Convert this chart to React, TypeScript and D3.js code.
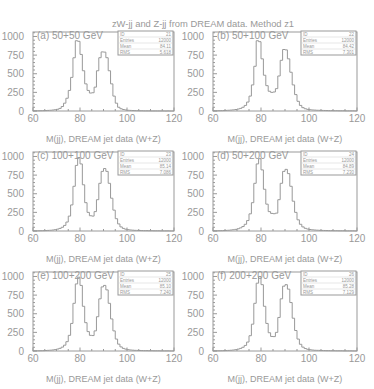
import * as d3 from "d3";

// bin contents, 1 GeV bins from 60 to 120
const binEdges = d3.range(60, 121);

const histA = [2, 3, 3, 4, 5, 6, 8, 10, 13, 17, 23, 35, 60, 105, 171, 276, 451, 714, 943, 935, 759, 540, 364, 276, 241, 245, 320, 540, 715, 793, 790, 715, 540, 364, 200, 105, 50, 30, 20, 14, 10, 8, 6, 5, 4, 3, 3, 2, 2, 2, 1, 1, 1, 1, 1, 1, 0, 1, 0, 0];
const histB = [3, 3, 4, 5, 6, 8, 10, 12, 15, 20, 26, 35, 50, 75, 120, 200, 350, 600, 943, 930, 700, 480, 340, 265, 250, 255, 300, 470, 680, 825, 820, 700, 520, 350, 220, 130, 75, 45, 30, 22, 17, 14, 12, 10, 9, 8, 7, 6, 5, 5, 4, 4, 3, 3, 3, 2, 2, 2, 2, 1];
const histC = [2, 2, 3, 4, 5, 6, 8, 10, 13, 18, 25, 35, 50, 75, 120, 200, 350, 600, 880, 985, 900, 620, 380, 250, 205, 200, 260, 420, 640, 800, 838, 800, 640, 440, 280, 165, 95, 55, 35, 24, 18, 14, 11, 9, 8, 7, 6, 5, 5, 4, 4, 3, 3, 3, 2, 2, 2, 2, 1, 1];
const histD = [3, 3, 4, 5, 6, 8, 10, 13, 17, 22, 30, 42, 60, 90, 140, 230, 380, 640, 900, 970, 820, 560, 360, 260, 236, 232, 240, 420, 640, 800, 827, 770, 600, 400, 250, 150, 90, 55, 36, 26, 20, 16, 13, 11, 9, 8, 7, 6, 5, 5, 4, 4, 3, 3, 3, 2, 2, 2, 2, 1];
const histE = [2, 3, 3, 4, 5, 7, 9, 11, 14, 19, 26, 36, 52, 78, 125, 210, 370, 640, 900, 990, 880, 600, 380, 260, 210, 207, 270, 460, 700, 860, 880, 820, 640, 430, 270, 160, 92, 55, 35, 25, 18, 14, 11, 9, 8, 7, 6, 5, 5, 4, 4, 3, 3, 3, 2, 2, 2, 2, 1, 1];
const histF = [2, 3, 3, 4, 5, 6, 8, 10, 13, 18, 25, 35, 50, 75, 120, 205, 360, 640, 910, 1000, 890, 600, 370, 245, 195, 193, 250, 450, 700, 870, 890, 830, 650, 440, 275, 160, 90, 52, 33, 23, 17, 13, 10, 9, 8, 7, 6, 5, 5, 4, 4, 3, 3, 3, 2, 2, 2, 2, 1, 1];

const panelLabels = ["(a) 50+50 GeV", "(b) 50+100 GeV", "(c) 100+100 GeV", "(d) 50+200 GeV", "(e) 100+200 GeV", "(f) 200+200 GeV"];
const histIds = ["21", "22", "23", "24", "25", "26"];
const entries = ["12000", "12000", "12000", "12000", "12000", "12000"];
const means = ["84.11", "84.42", "85.14", "84.89", "85.10", "85.28"];
const rmsValues = ["5.618", "7.301", "7.086", "7.230", "7.240", "7.129"];

const xTicks = [60, 80, 100, 120];
const yTicks = [0, 250, 500, 750, 1000];
const xTitle = "M(jj), DREAM jet data (W+Z)";
const mainTitle = "zW-jj and Z-jj from DREAM data. Method z1";

const hists = [histA, histB, histC, histD, histE, histF];

const W = 374;
const H = 389;
const colX = [[33, 174], [213, 357]];
const rowY = [32, 152, 272];
const frameH = 79;
const ink = "#999";
const font = "'Liberation Sans', Arial, sans-serif";

function Panel({ idx }: { idx: number }) {
  const col = idx % 2;
  const row = Math.floor(idx / 2);
  const [x0, x1] = colX[col];
  const y0 = rowY[row];
  const y1 = y0 + frameH;

  const x = d3.scaleLinear().domain([60, 120]).range([x0, x1]);
  const y = d3.scaleLinear().domain([0, 1060]).range([y1, y0]);

  const vals = hists[idx];
  const pts: [number, number][] = [[60, 0]];
  vals.forEach((v, i) => pts.push([binEdges[i], v]));
  pts.push([120, vals[vals.length - 1]]);
  pts.push([120, 0]);

  const line = d3
    .line<[number, number]>()
    .x((d) => x(d[0]))
    .y((d) => y(d[1]))
    .curve(d3.curveStepAfter);

  const xMinor = d3.range(60, 121, 5).filter((v) => !xTicks.includes(v));
  const yMinor = d3.range(0, 1051, 50).filter((v) => !yTicks.includes(v));

  const bw = 55;
  const bh = 24;
  const bx = x1 - bw - 1;
  const by = y0 - 1;
  const rows = [
    ["ID", histIds[idx]],
    ["Entries", entries[idx]],
    ["Mean", means[idx]],
    ["RMS", rmsValues[idx]],
  ];

  return (
    <g>
      <rect x={x0} y={y0} width={x1 - x0} height={frameH} fill="none" stroke={ink} strokeWidth={1} />
      {xTicks.map((t) => (
        <g key={"xt" + t}>
          <line x1={x(t)} x2={x(t)} y1={y1} y2={y1 - 3.5} stroke={ink} />
          <text x={x(t)} y={y1 + 11} textAnchor="middle" fontSize={10} fill={ink} fontFamily={font}>
            {t}
          </text>
        </g>
      ))}
      {xMinor.map((t) => (
        <line key={"xm" + t} x1={x(t)} x2={x(t)} y1={y1} y2={y1 - 2} stroke={ink} />
      ))}
      {yTicks.map((t) => (
        <g key={"yt" + t}>
          <line x1={x0} x2={x0 + 4} y1={y(t)} y2={y(t)} stroke={ink} />
          <text x={x0 - 9} y={y(t) + 3.5} textAnchor="end" fontSize={10} fill={ink} fontFamily={font}>
            {t}
          </text>
        </g>
      ))}
      {yMinor.map((t) => (
        <line key={"ym" + t} x1={x0} x2={x0 + 2} y1={y(t)} y2={y(t)} stroke={ink} />
      ))}
      <path d={line(pts) || ""} fill="none" stroke={ink} strokeWidth={1} />
      <text x={x0 + 4} y={y0 + 7} fontSize={10} fill={ink} fontFamily={font}>
        {panelLabels[idx]}
      </text>
      <rect x={bx} y={by} width={bw} height={bh} fill="white" stroke={ink} strokeWidth={1} />
      {rows.map((r, i) => (
        <g key={r[0]}>
          {i > 0 && <line x1={bx} x2={bx + bw} y1={by + i * (bh / 4)} y2={by + i * (bh / 4)} stroke="#cfcfcf" strokeWidth={0.5} />}
          <text x={bx + 2} y={by + i * (bh / 4) + 4.6} fontSize={4.5} fill={ink} fontFamily={font}>
            {r[0]}
          </text>
          <text x={bx + bw - 2} y={by + i * (bh / 4) + 4.6} fontSize={4.5} fill={ink} textAnchor="end" fontFamily={font}>
            {r[1]}
          </text>
        </g>
      ))}
      <text x={(x0 + x1) / 2} y={y1 + 31} textAnchor="middle" fontSize={9} fill={ink} fontFamily={font}>
        {xTitle}
      </text>
    </g>
  );
}

export default function App() {
  return (
    <svg width={W} height={H} style={{ position: "absolute", left: 0, top: 0, background: "white" }}>
      <rect width={W} height={H} fill="white" />
      {hists.map((_, i) => (
        <Panel key={i} idx={i} />
      ))}
      <text x={203} y={27} textAnchor="middle" fontSize={9.4} fill={ink} fontFamily={font}>
        {mainTitle}
      </text>
    </svg>
  );
}
